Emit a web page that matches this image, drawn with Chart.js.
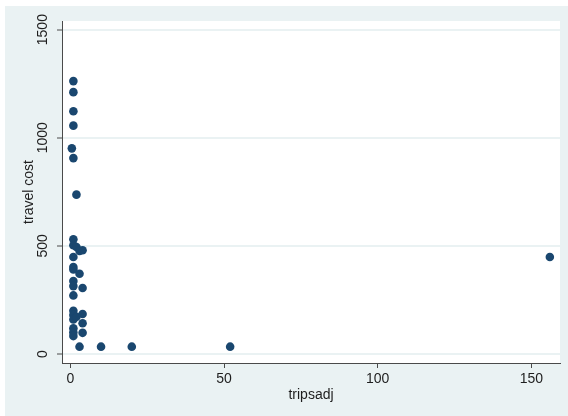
<!DOCTYPE html>
<html>
<head>
<meta charset="utf-8">
<script src="https://cdn.jsdelivr.net/npm/chart.js@4"></script>
<style>
  html, body { margin: 0; padding: 0; background: #fff; }
  #wrap { width: 568px; height: 416px; }
</style>
</head>
<body>
<div id="wrap"><canvas id="scatter" width="568" height="416"></canvas></div>
<script>
/* ---- data ---- */
const tripsadj = [1, 1, 1, 1, 0.5, 1, 2, 1, 1, 2, 3, 4, 1, 1, 1, 3, 1, 1, 4, 1,
  1, 1, 1, 2, 4, 4, 1, 1, 1, 4, 3, 10, 20, 52, 156];
const travelCost = [1262, 1211, 1123, 1056, 951, 906, 737, 531, 503, 495, 477, 480, 449, 402, 391, 371, 338, 314, 305, 271,
  200, 180, 160, 172, 185, 142, 119, 100, 83, 98, 34, 34, 34, 34, 449];
const xTicks = [0, 50, 100, 150];
const yTicks = [0, 500, 1000, 1500];

const FONT = "'Liberation Sans', Arial, sans-serif";
const BG = "#eaf2f3";
const INK = "#1e1e1e";
const AXIS = "#4a4a4a";

/* ---- background: white margin, bluish graph region, white plot area ---- */
const bgPlugin = {
  id: "bg",
  beforeDraw(chart) {
    const { ctx, chartArea: a, width, height } = chart;
    ctx.save();
    ctx.fillStyle = "#fff";
    ctx.fillRect(0, 0, width, height);
    ctx.fillStyle = BG;
    ctx.fillRect(5, 6, width - 5, height - 6);
    ctx.fillStyle = "#fff";
    ctx.fillRect(a.left, a.top, a.right - a.left, a.bottom - a.top);
    ctx.restore();
  },
};

/* ---- y tick labels drawn vertically, Stata style ---- */
const yLabelPlugin = {
  id: "ylabels",
  afterDraw(chart) {
    const { ctx } = chart;
    const y = chart.scales.y;
    ctx.save();
    ctx.fillStyle = INK;
    ctx.font = `14px ${FONT}`;
    ctx.textAlign = "center";
    ctx.textBaseline = "middle";
    yTicks.forEach((v) => {
      const py = y.getPixelForValue(v);
      ctx.save();
      ctx.translate(43.5, py);
      ctx.rotate(-Math.PI / 2);
      ctx.fillText(String(v), 0, 0);
      ctx.restore();
    });
    ctx.restore();
  },
};

new Chart(document.getElementById("scatter"), {
  type: "scatter",
  data: {
    datasets: [
      {
        data: tripsadj.map((x, i) => ({ x, y: travelCost[i] })),
        backgroundColor: "#1a476f",
        borderWidth: 0,
        pointRadius: 4.3,
        pointHoverRadius: 4.3,
      },
    ],
  },
  options: {
    responsive: false,
    animation: false,
    events: [],
    layout: { padding: { top: 21, right: 8, left: 0, bottom: 0 } },
    plugins: { legend: { display: false }, tooltip: { enabled: false } },
    scales: {
      x: {
        type: "linear",
        min: -2.7,
        max: 159.3,
        afterBuildTicks: (s) => { s.ticks = xTicks.map((value) => ({ value })); },
        afterFit: (s) => { s.height = 53; },
        grid: { drawOnChartArea: false, drawTicks: true, tickLength: 5, tickColor: AXIS, tickWidth: 1 },
        border: { color: AXIS, width: 1 },
        ticks: { color: INK, font: { family: FONT, size: 14 }, padding: 3, maxRotation: 0 },
        title: {
          display: true,
          text: "tripsadj",
          color: INK,
          font: { family: FONT, size: 14 },
          padding: { top: 0, bottom: 12.6 },
        },
      },
      y: {
        type: "linear",
        min: -41.5,
        max: 1540,
        afterBuildTicks: (s) => { s.ticks = yTicks.map((value) => ({ value })); },
        afterFit: (s) => { s.width = 62; },
        grid: { color: BG, lineWidth: 2, drawTicks: true, tickLength: 5, tickColor: AXIS, tickWidth: 1 },
        border: { color: AXIS, width: 1 },
        ticks: { display: false },
        title: {
          display: true,
          text: "travel cost",
          color: INK,
          font: { family: FONT, size: 14 },
          padding: { top: 20.6, bottom: 0 },
        },
      },
    },
  },
  plugins: [bgPlugin, yLabelPlugin],
});
</script>
</body>
</html>
